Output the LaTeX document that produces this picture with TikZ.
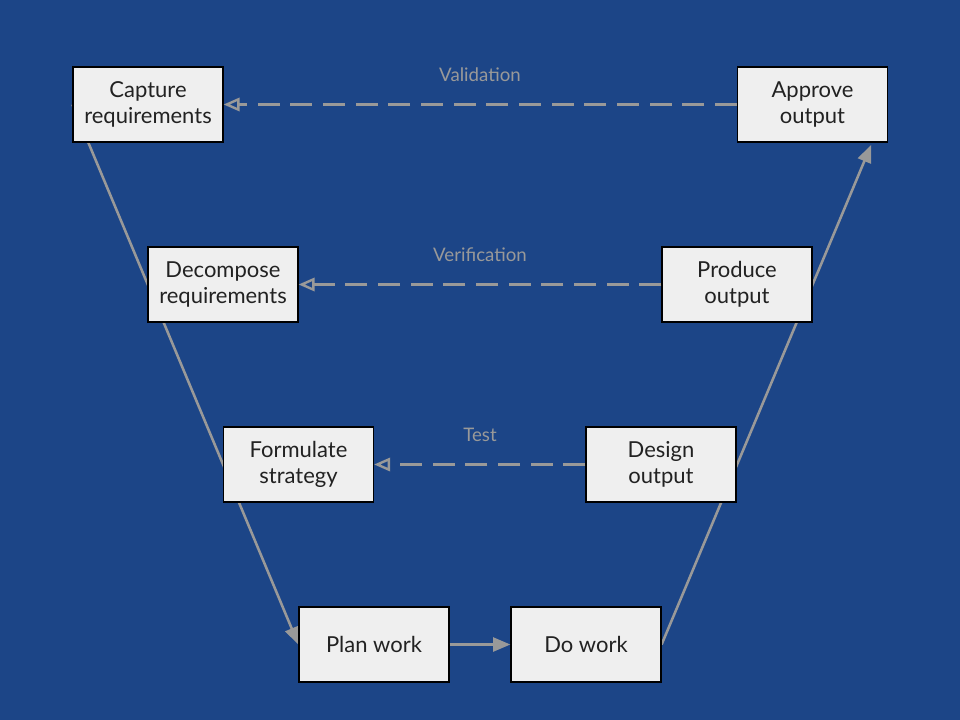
\documentclass[tikz,border=0pt]{standalone}
\usepackage{fontspec}
\setmainfont{Lato}
\usetikzlibrary{arrows.meta,backgrounds}
\definecolor{vblue}{RGB}{28,69,135}
\definecolor{vbox}{RGB}{239,239,239}
\definecolor{vgray}{RGB}{153,153,153}
\definecolor{vtext}{RGB}{34,34,34}

\begin{document}
\begin{tikzpicture}[x=0.75pt,y=-0.75pt,
  stage/.style={draw=black, line width=0.9pt, fill=vbox, text=vtext,
    minimum width=112.5pt, minimum height=56.25pt, align=center,
    font=\fontsize{16.5}{19.5}\selectfont},
  flow/.style={vgray, line width=1.9pt, -{Triangle[length=13pt,width=10.5pt]}},
  check/.style={vgray, line width=2.2pt, dash pattern=on 16.5pt off 8pt,
    -{Triangle[open,length=12pt,width=10pt,line width=1.8pt]}},
  tag/.style={vgray, font=\fontsize{14}{16}\selectfont}]
\useasboundingbox (0,0) rectangle (960,720);
% Left leg (definition)
\node[stage] (capture) at (148,104.5) {Capture\\requirements};
\node[stage] (decompose) at (223,284.5) {Decompose\\requirements};
\node[stage] (formulate) at (298.5,464.5) {Formulate\\strategy};
\node[stage] (plan) at (374,644.5) {Plan work};
% Right leg (delivery)
\node[stage] (do) at (586,644.5) {Do work};
\node[stage] (design) at (661,464.5) {Design\\output};
\node[stage] (produce) at (737,284.5) {Produce\\output};
\node[stage] (approve) at (812.5,104.5) {Approve\\output};
% Labels
\node[tag] (validation) at (480,75) {Validation};
\node[tag] (verification) at (480,255) {Verification};
\node[tag] (test) at (480,435) {Test};
% V shape, behind the boxes
\begin{pgfonlayer}{background}
\fill[vblue] (0,0) rectangle (960,720);
\draw[flow] (capture.west) -- (plan.west);
\draw[flow, shorten >=33pt] (do.east) -- (approve.east);
\end{pgfonlayer}
\draw[flow] (plan) -- (do);
% Checks across the V
\draw[check] (approve.west) -- (capture.east);
\draw[check] (produce.west) -- (decompose.east);
\draw[check] (design.west) -- (formulate.east);
\end{tikzpicture}
\end{document}
